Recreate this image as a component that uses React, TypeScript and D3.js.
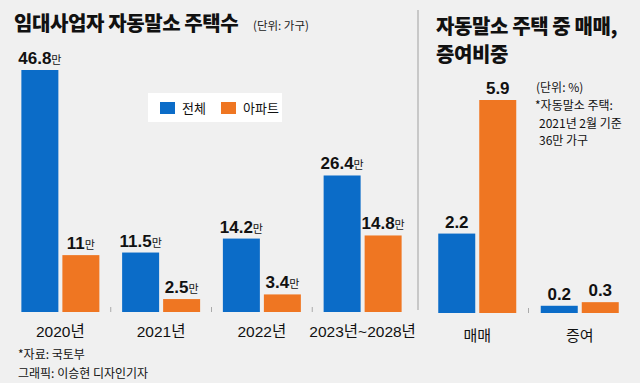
import React from "react";
import * as d3 from "d3";

const years = ["2020년", "2021년", "2022년", "2023년~2028년"];
const totalHomes = [46.8, 11.5, 14.2, 26.4];
const aptHomes = [11, 2.5, 3.4, 14.8];
const totalLabels = ["46.8", "11.5", "14.2", "26.4"];
const aptLabels = ["11", "2.5", "3.4", "14.8"];

const kinds = ["매매", "증여"];
const totalShare = [2.2, 0.2];
const aptShare = [5.9, 0.3];

const legendItems = ["전체", "아파트"];

const BLUE = "#0b6cc8";
const ORANGE = "#ef7622";
const BG = "#f0f0f0";
const KR = "'Noto Sans CJK KR', 'Noto Sans', sans-serif";
const NUM = "'Liberation Sans Narrow', 'Liberation Sans', Arial, 'Noto Sans CJK KR', sans-serif";

export default function App() {
  const W = 640, H = 383;
  const base = 312;

  // left chart
  const xL = d3.scaleBand().domain(years).range([10, 413]).paddingInner(0.0).paddingOuter(0);
  const yL = d3.scaleLinear().domain([0, 46.8]).range([base, 70]);
  const bw = 37, gap = 4;

  // right chart
  const base2 = 313;
  const xR = d3.scaleBand().domain(kinds).range([426, 631]);
  const yR = d3.scaleLinear().domain([0, 5.9]).range([base2, 100]);

  const groupStart = (band: number, x: number) => x + (band - (2 * bw + gap)) / 2;

  return (
    <svg width={W} height={H} style={{ position: "absolute", left: 0, top: 0, display: "block" }}>
      <rect width={W} height={H} fill={BG} />
      {/* titles */}
      <text x={14} y={31} fontFamily={KR} fontWeight={900} fontSize={20} fill="#111" letterSpacing={-0.4}>
        임대사업자 자동말소 주택수
      </text>
      <text x={253} y={30} fontFamily={KR} fontSize={11.5} fill="#222">(단위: 가구)</text>

      <text x={436} y={34} fontFamily={KR} fontWeight={900} fontSize={20} fill="#111" letterSpacing={-0.4}>
        자동말소 주택 중 매매,
      </text>
      <text x={436} y={62} fontFamily={KR} fontWeight={900} fontSize={20} fill="#111" letterSpacing={-0.4}>
        증여비중
      </text>

      {/* divider */}
      <line x1={418} x2={418} y1={10} y2={310} stroke="#c8c8c8" strokeWidth={2} />

      {/* legend */}
      <rect x={148} y={93} width={134} height={29} fill="#ffffff" />
      {legendItems.map((t, i) => (
        <g key={t}>
          <rect x={160 + i * 61} y={102} width={15} height={12} fill={i === 0 ? BLUE : ORANGE} />
          <text x={182 + i * 61} y={113} fontFamily={KR} fontSize={13} fill="#111">{t}</text>
        </g>
      ))}

      {/* left bars */}
      {years.map((yr, i) => {
        const x0 = groupStart(xL.bandwidth(), xL(yr)!);
        const cx = xL(yr)! + xL.bandwidth() / 2;
        return (
          <g key={yr}>
            <rect x={x0} y={yL(totalHomes[i])} width={bw} height={base - yL(totalHomes[i])} fill={BLUE} />
            <rect x={x0 + bw + gap} y={yL(aptHomes[i])} width={bw} height={base - yL(aptHomes[i])} fill={ORANGE} />
            <text x={x0 + bw / 2} y={yL(totalHomes[i]) - 6} textAnchor="middle" fill="#111">
              <tspan fontFamily={NUM} fontWeight={700} fontSize={17}>{totalLabels[i]}</tspan>
              <tspan fontFamily={KR} fontSize={11}>만</tspan>
            </text>
            <text x={x0 + bw + gap + bw / 2} y={yL(aptHomes[i]) - 6} textAnchor="middle" fill="#111">
              <tspan fontFamily={NUM} fontWeight={700} fontSize={17}>{aptLabels[i]}</tspan>
              <tspan fontFamily={KR} fontSize={11}>만</tspan>
            </text>
            <text x={cx} y={337} textAnchor="middle" fontFamily={NUM} fontSize={15.5} fill="#111">{yr}</text>
            {i > 0 && (
              <line x1={xL(yr)!} x2={xL(yr)!} y1={307} y2={312} stroke="#aaa" strokeWidth={1} />
            )}
          </g>
        );
      })}

      {/* right bars */}
      {kinds.map((k, i) => {
        const x0 = groupStart(xR.bandwidth(), xR(k)!);
        const cx = xR(k)! + xR.bandwidth() / 2;
        return (
          <g key={k}>
            <rect x={x0} y={yR(totalShare[i])} width={bw} height={base2 - yR(totalShare[i])} fill={BLUE} />
            <rect x={x0 + bw + gap} y={yR(aptShare[i])} width={bw} height={base2 - yR(aptShare[i])} fill={ORANGE} />
            <text x={x0 + bw / 2} y={yR(totalShare[i]) - 6} textAnchor="middle" fontFamily={NUM} fontWeight={700} fontSize={17} fill="#111">
              {totalShare[i].toFixed(1)}
            </text>
            <text x={x0 + bw + gap + bw / 2} y={yR(aptShare[i]) - 6} textAnchor="middle" fontFamily={NUM} fontWeight={700} fontSize={17} fill="#111">
              {aptShare[i].toFixed(1)}
            </text>
            <text x={cx} y={341} textAnchor="middle" fontFamily={KR} fontSize={15} fill="#111">{k}</text>
            {i > 0 && (
              <line x1={xR(k)!} x2={xR(k)!} y1={308} y2={313} stroke="#aaa" strokeWidth={1} />
            )}
          </g>
        );
      })}

      {/* annotation */}
      <text x={536} y={92} fontFamily={KR} fontSize={12} fill="#111">(단위: %)</text>
      <text x={535} y={110} fontFamily={KR} fontSize={12} fill="#111">*자동말소 주택:</text>
      <text x={539} y={127.5} fontFamily={KR} fontSize={12} fill="#111">2021년 2월 기준</text>
      <text x={539} y={145} fontFamily={KR} fontSize={12} fill="#111">36만 가구</text>

      {/* footer */}
      <text x={18} y={359} fontFamily={KR} fontSize={12} fill="#111">*자료: 국토부</text>
      <text x={18} y={378} fontFamily={KR} fontSize={12} fill="#111">그래픽: 이승현 디자인기자</text>
    </svg>
  );
}
